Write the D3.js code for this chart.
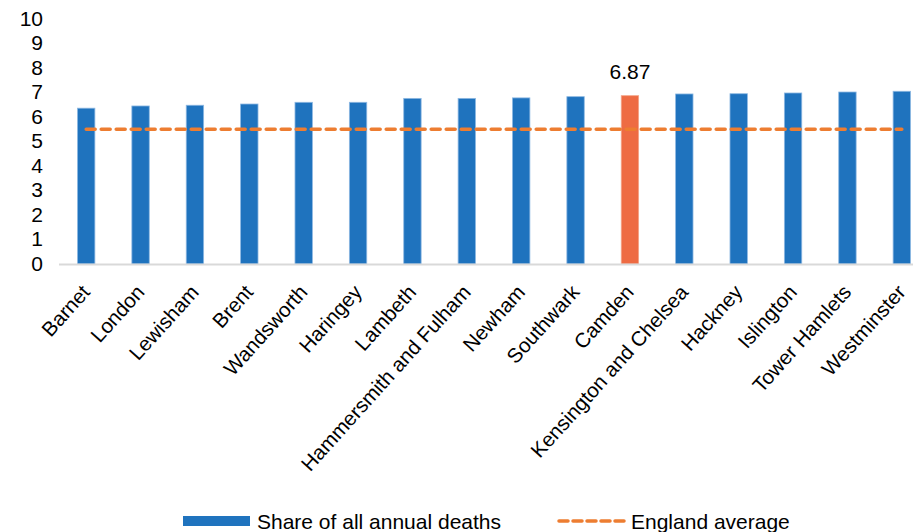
<!DOCTYPE html>
<html><head><meta charset="utf-8">
<script src="https://cdn.jsdelivr.net/npm/d3@7"></script>
<style>body{margin:0;background:#fff}svg{display:block}text{font-family:"Liberation Sans",Arial,sans-serif;fill:#000}</style>
</head><body><svg id="c" width="913" height="532"></svg>
<script>
const categories = ["Barnet","London","Lewisham","Brent","Wandsworth","Haringey","Lambeth","Hammersmith and Fulham","Newham","Southwark","Camden","Kensington and Chelsea","Hackney","Islington","Tower Hamlets","Westminster"];
const shareValues = [6.36,6.45,6.48,6.53,6.60,6.60,6.76,6.76,6.78,6.83,6.87,6.94,6.95,6.98,7.02,7.05];
const englandAverage = [5.5,5.5,5.5,5.5,5.5,5.5,5.5,5.5,5.5,5.5,5.5,5.5,5.5,5.5,5.5,5.5];
const yTicks = [0,1,2,3,4,5,6,7,8,9,10];
const highlight = "Camden";
const highlightLabel = "6.87";
const seriesNames = ["Share of all annual deaths","England average"];

const svg = d3.select("#c");
const x = d3.scaleBand().domain(categories).range([59, 929]).paddingInner(0.68).paddingOuter(0.34);
const y = d3.scaleLinear().domain([0,10]).range([264, 19]);
const blue = "#1F73BE", orange = "#ED7D31", hi = "#EE6B43";
const FF = "Liberation Sans, Arial, sans-serif";

// y tick labels
const yAxis = svg.append("g").attr("transform","translate(43,0)")
  .call(d3.axisLeft(y).tickValues(yTicks).tickSize(0).tickPadding(0).tickFormat(d3.format("d")));
yAxis.select(".domain").remove();
yAxis.selectAll("text").style("font-size","21px").style("font-family",FF).attr("fill","#000").attr("dy","0.3em");

// bars
svg.append("g").selectAll("rect").data(categories).join("rect")
  .attr("x", d => x(d)).attr("width", x.bandwidth())
  .attr("y", (d,i) => y(shareValues[i])).attr("height", (d,i) => y(0) - y(shareValues[i]))
  .attr("fill", d => d === highlight ? hi : blue)
  .attr("stroke", d => d === highlight ? "#F4A488" : "#8DB8E2").attr("stroke-width", 0.8);

// x axis line
svg.append("line").attr("x1", 59).attr("x2", 913).attr("y1", y(0)+0.5).attr("y2", y(0)+0.5)
  .attr("stroke", "#D9D9D9").attr("stroke-width", 2);

// x labels
const xAxis = svg.append("g").attr("transform", `translate(0,${y(0)})`)
  .call(d3.axisBottom(x).tickSize(0).tickPadding(0));
xAxis.select(".domain").remove();
xAxis.selectAll("text")
  .style("font-size","20.5px").style("font-family",FF).attr("fill","#000")
  .attr("text-anchor","end").attr("dy", null).attr("y", 0)
  .attr("transform","translate(5,29) rotate(-48)");

// England average line
const line = d3.line().x((d,i) => x(categories[i]) + x.bandwidth()/2).y(d => y(d));
svg.append("path").datum(englandAverage).attr("d", line)
  .attr("fill","none").attr("stroke", orange).attr("stroke-width", 3.5)
  .attr("stroke-dasharray","9,6").attr("stroke-linecap","round");

// data label
const hiIdx = categories.indexOf(highlight);
svg.append("text").attr("x", x(highlight) + x.bandwidth()/2).attr("y", y(shareValues[hiIdx]) - 17)
  .attr("text-anchor","middle").style("font-size","21px").text(highlightLabel);

// legend
const lg = svg.append("g");
lg.append("rect").attr("x",183).attr("y",516).attr("width",67).attr("height",10).attr("fill",blue);
lg.append("text").attr("x",257).attr("y",529).style("font-size","21px").text(seriesNames[0]);
lg.append("line").attr("x1",559).attr("x2",624).attr("y1",521).attr("y2",521)
  .attr("stroke",orange).attr("stroke-width",3.5).attr("stroke-dasharray","9,5").attr("stroke-linecap","round");
lg.append("text").attr("x",631).attr("y",529).style("font-size","21px").text(seriesNames[1]);
</script></body></html>
